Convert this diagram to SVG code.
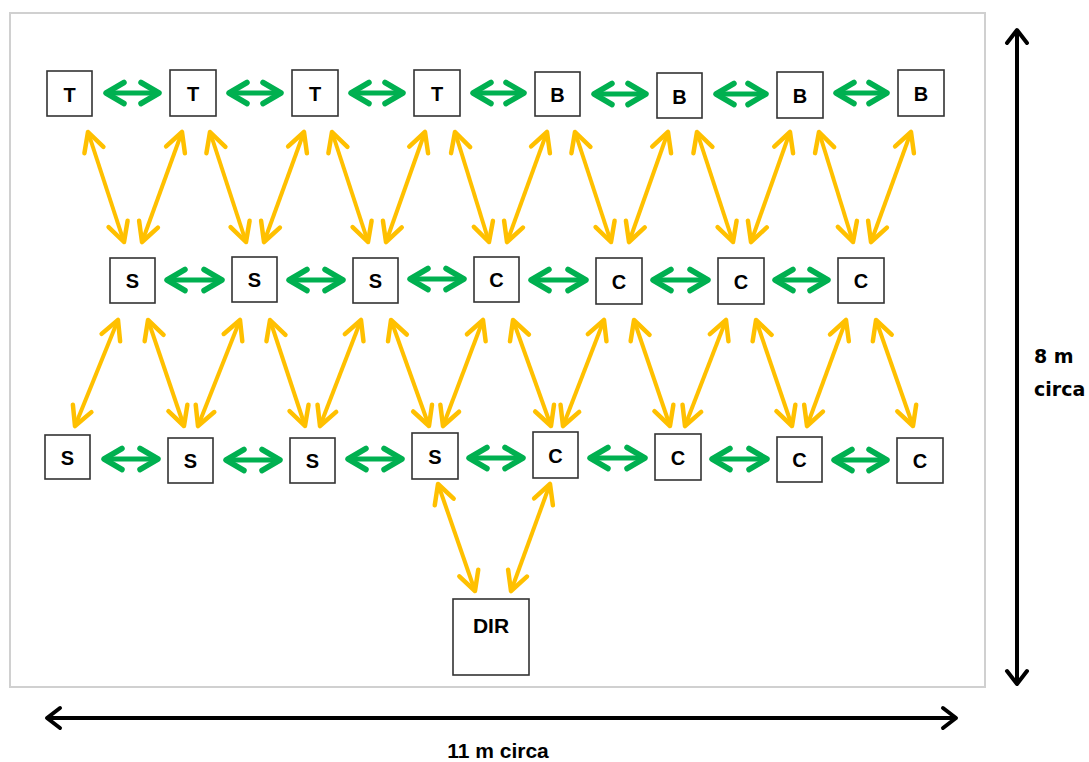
<svg xmlns="http://www.w3.org/2000/svg" width="1089" height="762" viewBox="0 0 1089 762">
  <style>
    .box { fill: #ffffff; stroke: #333333; stroke-width: 1.6; }
    .lbl { font-family: "Liberation Sans", Arial, sans-serif; font-weight: bold; font-size: 20px; fill: #000000; text-anchor: middle; }
    .green { stroke: #00b050; stroke-width: 5; fill: none; marker-start: url(#hg); marker-end: url(#hg); }
    .yellow { stroke: #ffc000; stroke-width: 4; fill: none; marker-start: url(#hy); marker-end: url(#hy); }
    .dim { stroke: #000000; stroke-width: 4; fill: none; marker-start: url(#hk); marker-end: url(#hk); }
  </style>
  <defs>
    <marker id="hg" markerUnits="userSpaceOnUse" viewBox="-24 -14 28 28" markerWidth="28" markerHeight="28" refX="0" refY="0" orient="auto-start-reverse" overflow="visible">
      <path d="M-18,-10.5 L0,0 L-18,10.5" fill="none" stroke="#00b050" stroke-width="5.5" stroke-linecap="round" stroke-linejoin="round"/>
    </marker>
    <marker id="hy" markerUnits="userSpaceOnUse" viewBox="-24 -14 28 28" markerWidth="28" markerHeight="28" refX="0" refY="0" orient="auto-start-reverse" overflow="visible">
      <path d="M-19,-10 L0,0 L-19,10" fill="none" stroke="#ffc000" stroke-width="4.5" stroke-linecap="round" stroke-linejoin="round"/>
    </marker>
    <marker id="hk" markerUnits="userSpaceOnUse" viewBox="-24 -14 28 28" markerWidth="28" markerHeight="28" refX="0" refY="0" orient="auto-start-reverse" overflow="visible">
      <path d="M-13,-10 L0,0 L-13,10" fill="none" stroke="#000000" stroke-width="4" stroke-linecap="round" stroke-linejoin="round"/>
    </marker>
  </defs>

  <!-- room outline -->
  <rect x="10" y="13" width="975" height="674" fill="#ffffff" stroke="#d0d0d0" stroke-width="2"/>

  <!-- connectors -->
  <g id="connectors">
    <!-- green links along the top row -->
    <line class="green" x1="106" y1="93" x2="159" y2="93"/>
    <line class="green" x1="229" y1="93" x2="281" y2="93"/>
    <line class="green" x1="351" y1="93" x2="403" y2="93"/>
    <line class="green" x1="473" y1="93" x2="524" y2="93"/>
    <line class="green" x1="594" y1="94" x2="646" y2="94"/>
    <line class="green" x1="716" y1="94" x2="766" y2="94"/>
    <line class="green" x1="836" y1="93" x2="887" y2="93"/>
    <!-- green links along the middle row -->
    <line class="green" x1="167" y1="280" x2="222" y2="280"/>
    <line class="green" x1="289" y1="280" x2="343" y2="280"/>
    <line class="green" x1="410" y1="279" x2="464" y2="279"/>
    <line class="green" x1="531" y1="280" x2="586" y2="280"/>
    <line class="green" x1="653" y1="280" x2="708" y2="280"/>
    <line class="green" x1="775" y1="280" x2="828" y2="280"/>
    <!-- green links along the bottom row -->
    <line class="green" x1="104" y1="459" x2="158" y2="459"/>
    <line class="green" x1="226" y1="460" x2="280" y2="460"/>
    <line class="green" x1="348" y1="459" x2="402" y2="459"/>
    <line class="green" x1="469" y1="458" x2="523" y2="458"/>
    <line class="green" x1="590" y1="458" x2="645" y2="458"/>
    <line class="green" x1="712" y1="459" x2="767" y2="459"/>
    <line class="green" x1="834" y1="460" x2="887" y2="460"/>

    <!-- yellow links, top row to middle row -->
    <line class="yellow" x1="88" y1="132" x2="124" y2="242"/>
    <line class="yellow" x1="182" y1="132" x2="142" y2="242"/>
    <line class="yellow" x1="210" y1="132" x2="246" y2="242"/>
    <line class="yellow" x1="304" y1="132" x2="264" y2="242"/>
    <line class="yellow" x1="332" y1="132" x2="368" y2="242"/>
    <line class="yellow" x1="425" y1="132" x2="386" y2="242"/>
    <line class="yellow" x1="455" y1="132" x2="489" y2="242"/>
    <line class="yellow" x1="547" y1="132" x2="507" y2="242"/>
    <line class="yellow" x1="575" y1="132" x2="611" y2="242"/>
    <line class="yellow" x1="668" y1="132" x2="629" y2="242"/>
    <line class="yellow" x1="697" y1="132" x2="733" y2="242"/>
    <line class="yellow" x1="790" y1="132" x2="751" y2="242"/>
    <line class="yellow" x1="819" y1="132" x2="853" y2="242"/>
    <line class="yellow" x1="911" y1="132" x2="871" y2="242"/>

    <!-- yellow links, middle row to bottom row -->
    <line class="yellow" x1="118" y1="320" x2="75" y2="426"/>
    <line class="yellow" x1="148" y1="320" x2="184" y2="426"/>
    <line class="yellow" x1="240" y1="320" x2="198" y2="426"/>
    <line class="yellow" x1="270" y1="320" x2="305" y2="426"/>
    <line class="yellow" x1="361" y1="320" x2="320" y2="426"/>
    <line class="yellow" x1="391" y1="320" x2="429" y2="426"/>
    <line class="yellow" x1="483" y1="320" x2="443" y2="426"/>
    <line class="yellow" x1="513" y1="320" x2="551" y2="426"/>
    <line class="yellow" x1="604" y1="320" x2="563" y2="426"/>
    <line class="yellow" x1="634" y1="320" x2="670" y2="426"/>
    <line class="yellow" x1="726" y1="320" x2="685" y2="426"/>
    <line class="yellow" x1="756" y1="320" x2="792" y2="426"/>
    <line class="yellow" x1="846" y1="320" x2="807" y2="426"/>
    <line class="yellow" x1="876" y1="320" x2="913" y2="426"/>

    <!-- yellow links, bottom row to DIR -->
    <line class="yellow" x1="438" y1="484" x2="475" y2="591"/>
    <line class="yellow" x1="550" y1="484" x2="511" y2="591"/>

    <!-- dimension arrows -->
    <line class="dim" x1="1017" y1="30" x2="1017" y2="684"/>
    <line class="dim" x1="47" y1="718" x2="956" y2="718"/>
  </g>

  <!-- top row -->
  <g id="t1"><rect class="box" x="47" y="71" width="45" height="45"/><text class="lbl" x="69.5" y="102">T</text></g>
  <g id="t2"><rect class="box" x="170" y="70" width="46" height="46"/><text class="lbl" x="193" y="101">T</text></g>
  <g id="t3"><rect class="box" x="292" y="70" width="46" height="46"/><text class="lbl" x="315" y="101">T</text></g>
  <g id="t4"><rect class="box" x="414" y="70" width="46" height="46"/><text class="lbl" x="437" y="101">T</text></g>
  <g id="b1"><rect class="box" x="535" y="72" width="45" height="44"/><text class="lbl" x="557.5" y="102">B</text></g>
  <g id="b2"><rect class="box" x="657" y="73" width="45" height="45"/><text class="lbl" x="679.5" y="104">B</text></g>
  <g id="b3"><rect class="box" x="777" y="72" width="46" height="46"/><text class="lbl" x="800" y="103">B</text></g>
  <g id="b4"><rect class="box" x="898" y="70" width="46" height="46"/><text class="lbl" x="921" y="101">B</text></g>

  <!-- middle row -->
  <g id="s1m"><rect class="box" x="110" y="258" width="45" height="45"/><text class="lbl" x="132.5" y="288">S</text></g>
  <g id="s2m"><rect class="box" x="232" y="257" width="45" height="45"/><text class="lbl" x="254.5" y="287">S</text></g>
  <g id="s3m"><rect class="box" x="353" y="258" width="45" height="45"/><text class="lbl" x="375.5" y="288">S</text></g>
  <g id="c4m"><rect class="box" x="474" y="257" width="45" height="45"/><text class="lbl" x="496.5" y="287">C</text></g>
  <g id="c5m"><rect class="box" x="596" y="258" width="46" height="46"/><text class="lbl" x="619" y="289">C</text></g>
  <g id="c6m"><rect class="box" x="718" y="258" width="46" height="46"/><text class="lbl" x="741" y="289">C</text></g>
  <g id="c7m"><rect class="box" x="838" y="258" width="46" height="45"/><text class="lbl" x="861" y="288">C</text></g>

  <!-- bottom row -->
  <g id="s1b"><rect class="box" x="45" y="435" width="45" height="44"/><text class="lbl" x="67.5" y="465">S</text></g>
  <g id="s2b"><rect class="box" x="168" y="438" width="45" height="45"/><text class="lbl" x="190.5" y="468">S</text></g>
  <g id="s3b"><rect class="box" x="290" y="438" width="45" height="45"/><text class="lbl" x="312.5" y="468">S</text></g>
  <g id="s4b"><rect class="box" x="412" y="433" width="46" height="46"/><text class="lbl" x="435" y="464">S</text></g>
  <g id="c5b"><rect class="box" x="533" y="432" width="45" height="46"/><text class="lbl" x="555.5" y="463">C</text></g>
  <g id="c6b"><rect class="box" x="655" y="434" width="46" height="46"/><text class="lbl" x="678" y="465">C</text></g>
  <g id="c7b"><rect class="box" x="777" y="437" width="45" height="45"/><text class="lbl" x="799.5" y="467">C</text></g>
  <g id="c8b"><rect class="box" x="897" y="438" width="46" height="45"/><text class="lbl" x="920" y="468">C</text></g>

  <!-- director -->
  <g id="dir"><rect class="box" x="453" y="599" width="76" height="76"/><text class="lbl" x="491" y="633" style="font-size:21px">DIR</text></g>

  <!-- dimension labels -->
  <g id="dim-labels" font-family="'DejaVu Sans', Verdana, sans-serif" font-weight="bold" font-size="19" fill="#000000">
    <text x="1034" y="363">8 m</text>
    <text x="1034" y="396">circa</text>
    <text x="498" y="758" text-anchor="middle" font-family="'Liberation Sans', Arial, sans-serif" font-size="21">11 m circa</text>
  </g>
</svg>
